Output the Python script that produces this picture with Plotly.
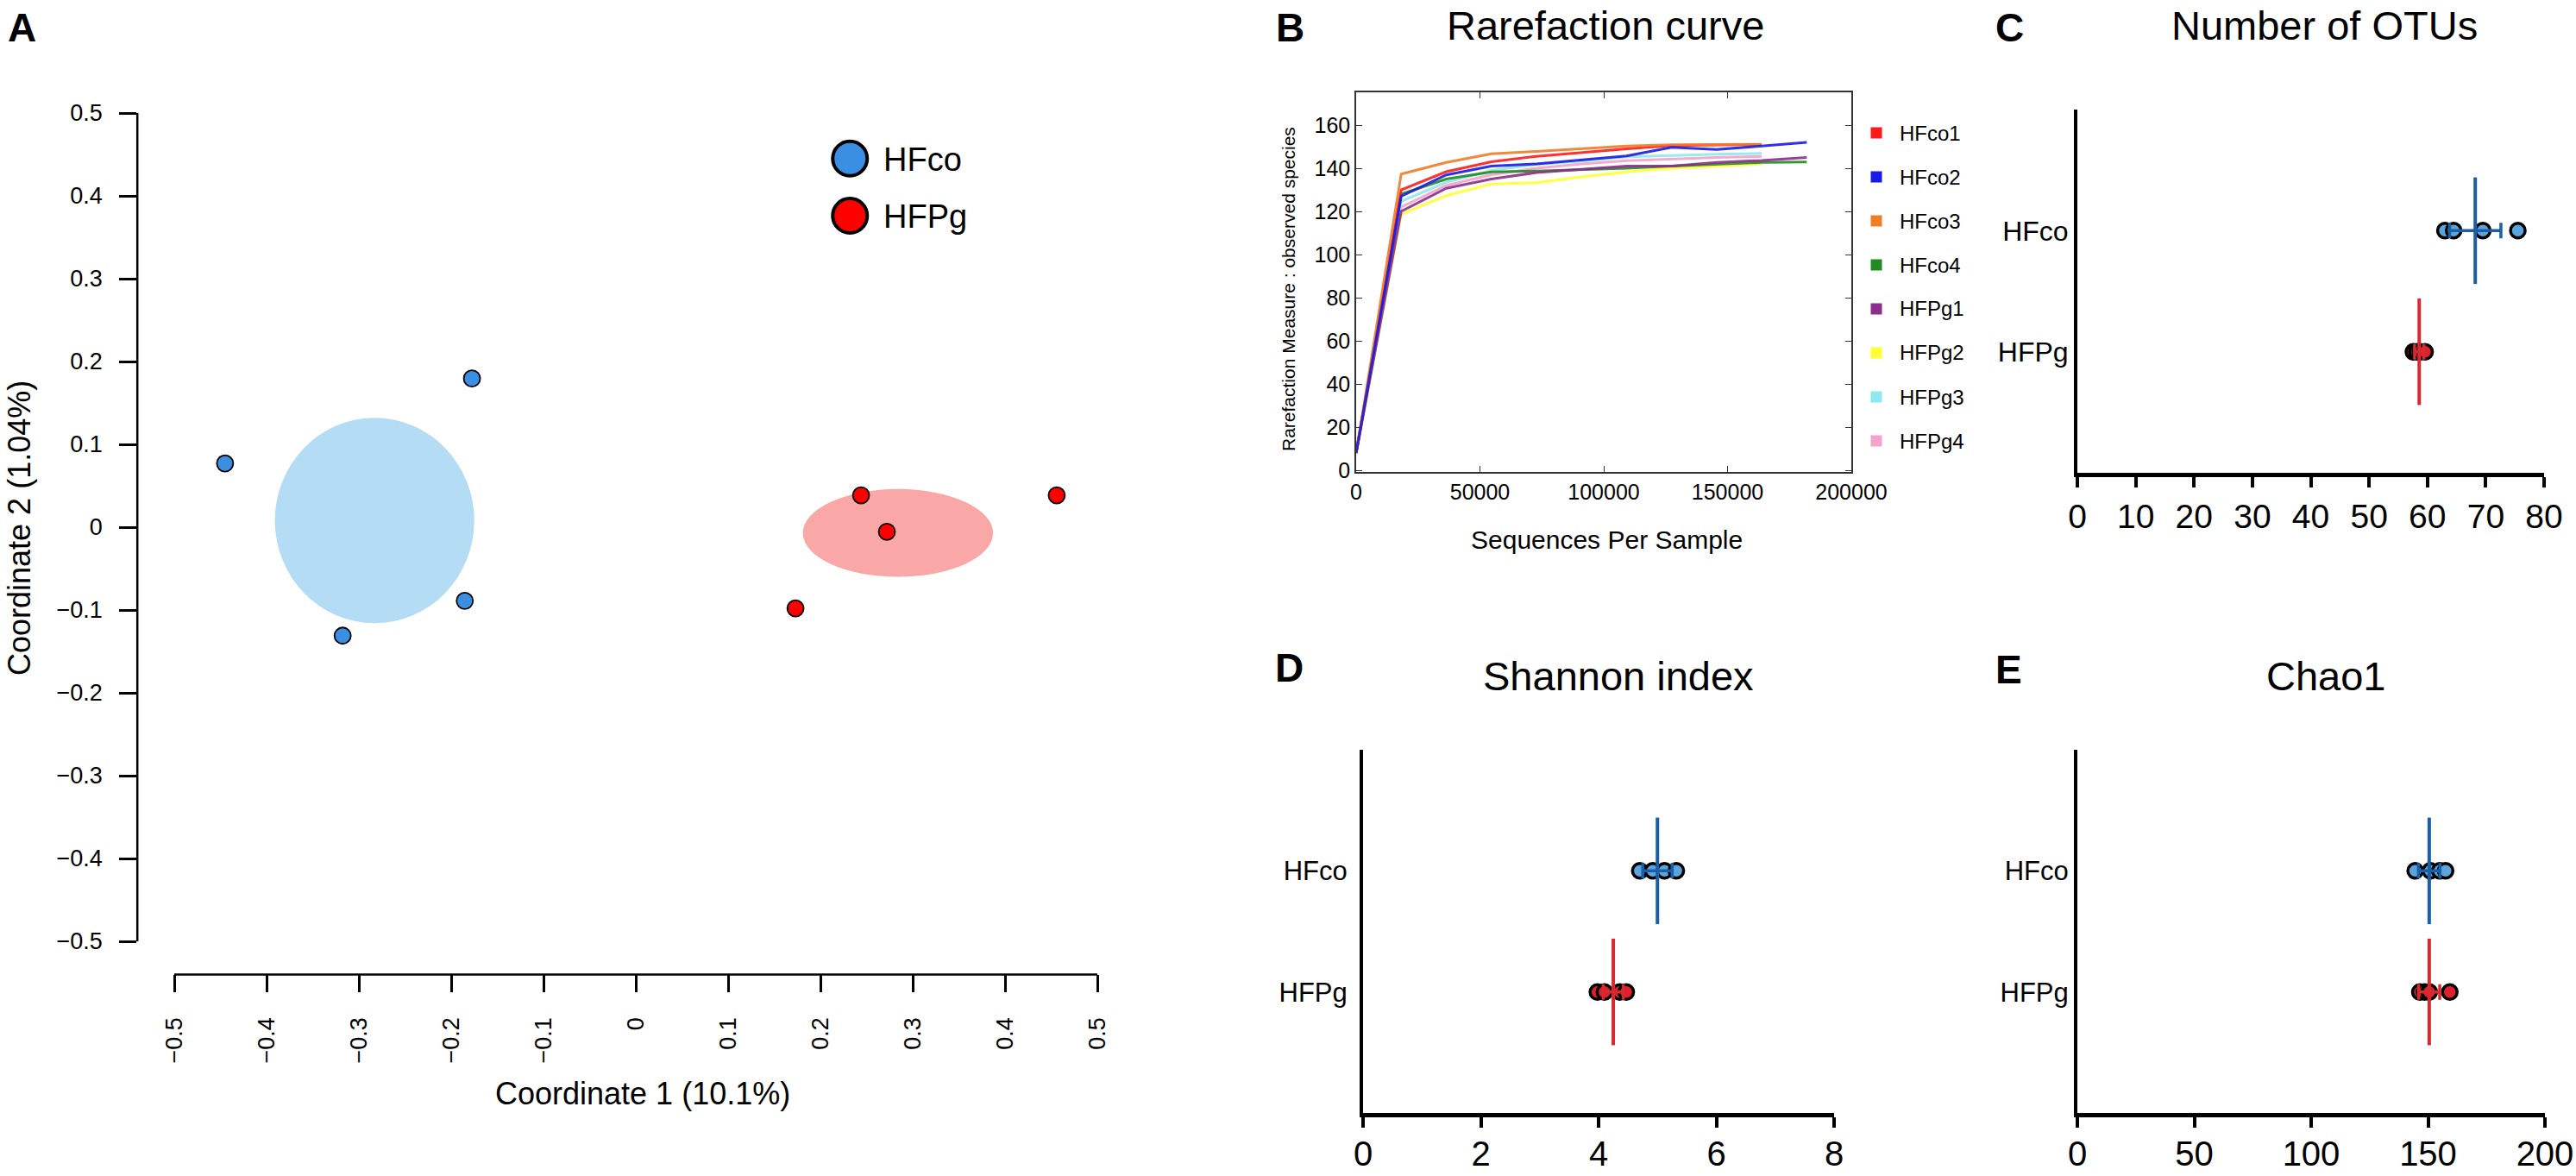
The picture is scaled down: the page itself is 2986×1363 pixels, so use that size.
import plotly.graph_objects as go

W, H = 2986, 1363
FONT = "Liberation Sans, Arial, sans-serif"

# ---------------- data ----------------
groups = ["HFco", "HFPg"]

# Panel A: PCoA
pcoa_hfco_x = [-0.445, -0.1775, -0.3176, -0.1853]
pcoa_hfco_y = [0.077, 0.1795, -0.131, -0.0889]
pcoa_hfpg_x = [0.244, 0.272, 0.173, 0.456]
pcoa_hfpg_y = [0.0385, -0.0055, -0.098, 0.0385]
ellipse_cx = [-0.283, 0.284]
ellipse_cy = [0.008, -0.007]
ellipse_rx = [0.108, 0.103]
ellipse_ry = [0.124, 0.053]
pcoa_ticks = [-0.5, -0.4, -0.3, -0.2, -0.1, 0, 0.1, 0.2, 0.3, 0.4, 0.5]
pcoa_ticklabels = ["\u22120.5", "\u22120.4", "\u22120.3", "\u22120.2", "\u22120.1", "0",
                   "0.1", "0.2", "0.3", "0.4", "0.5"]

# Panel B: rarefaction
seq_depth = [0, 18200, 36400, 54600, 72800, 91000, 109200, 127400, 145600, 163800, 182000]
rare_names = ["HFco1", "HFco2", "HFco3", "HFco4", "HFPg1", "HFPg2", "HFPg3", "HFPg4"]
rare_HFco1 = [8, 130, 138.4, 143, 145.5, 147.3, 149, 150.5, 150.8, 151.0]
rare_HFco2 = [8, 127, 136.9, 141, 142, 143.9, 145.7, 149.7, 148.7, 150.3, 152]
rare_HFco3 = [8, 137.3, 142.7, 146.7, 147.8, 149, 150.3, 150.9, 151, 151.1]
rare_HFco4 = [8, 128, 135, 138.3, 138.7, 139.3, 140, 141, 142, 142.7, 142.9]
rare_HFPg1 = [8, 120, 130.7, 135, 138, 139.6, 141, 141, 142.7, 143.6, 145]
rare_HFPg2 = [8, 118.7, 127.3, 132.7, 133.3, 136, 138.3, 140, 141, 142]
rare_HFPg3 = [8, 124.7, 133.5, 139, 141.8, 143.3, 145.3, 146, 146.5, 146.9]
rare_HFPg4 = [8, 122, 132, 137, 140, 142, 143.5, 144.3, 145, 145.5]
rare_colors = ["#ff1a1a", "#1a1ae6", "#f07d28", "#238a23", "#8c2d8c", "#ffff33", "#8ee8f0", "#f5a3c8"]
rare_x_ticks = [0, 50000, 100000, 150000, 200000]
rare_y_ticks = [0, 20, 40, 60, 80, 100, 120, 140, 160]

# Panels C-E: alpha diversity (dots, mean, error)
otus_hfco = [63.0, 64.5, 69.5, 75.5]
otus_hfpg = [57.6, 58.2, 58.8, 59.6]
otus_mean = [68.2, 58.6]
otus_err = [4.4, 0.8]
shannon_hfco = [4.7, 4.92, 5.12, 5.32]
shannon_hfpg = [3.98, 4.1, 4.36, 4.47]
shannon_mean = [5.0, 4.25]
shannon_err = [0.25, 0.17]
chao_hfco = [144.5, 151.0, 155.0, 157.5]
chao_hfpg = [146.5, 148.5, 150.5, 159.3]
chao_mean = [150.5, 150.5]
chao_err = [4.6, 4.5]
group_pos = [2, 1]  # HFco above HFPg

# legend placement (layout, not data)
legend_a_x = [0.232, 0.232]
legend_a_y = [0.445, 0.376]

# ---------------- helpers ----------------
def xdom(a, b):
    return [a / W, b / W]

def ydom(top, bottom):
    return [1 - bottom / H, 1 - top / H]

def px(x):
    return x / W

def py(y):
    return 1 - y / H

fig = go.Figure()
annotations = []
shapes = []

# ---------------- Panel A ----------------
ell_colors = ["#b5dcf5", "#faa7a7"]
for cx, cy, rx, ry, col in zip(ellipse_cx, ellipse_cy, ellipse_rx, ellipse_ry, ell_colors):
    shapes.append(dict(type="circle", xref="x", yref="y", x0=cx - rx, x1=cx + rx,
                       y0=cy - ry, y1=cy + ry, fillcolor=col, line=dict(width=0), layer="below"))

fig.add_trace(go.Scatter(x=pcoa_hfco_x, y=pcoa_hfco_y, mode="markers", xaxis="x", yaxis="y",
                         marker=dict(size=19, color="#3b8fe3", line=dict(width=1.8, color="black")),
                         showlegend=False))
fig.add_trace(go.Scatter(x=pcoa_hfpg_x, y=pcoa_hfpg_y, mode="markers", xaxis="x", yaxis="y",
                         marker=dict(size=19, color="#ff0000", line=dict(width=1.8, color="black")),
                         showlegend=False))
shapes.append(dict(type="line", xref="x", yref="y domain", x0=pcoa_ticks[0], x1=pcoa_ticks[-1],
                   y0=0, y1=0, line=dict(width=2.5, color="black")))
shapes.append(dict(type="line", xref="x domain", yref="y", x0=0, x1=0, y0=pcoa_ticks[0],
                   y1=pcoa_ticks[-1], line=dict(width=2.5, color="black")))

# Panel A legend
fig.add_trace(go.Scatter(x=legend_a_x, y=legend_a_y, mode="markers", xaxis="x", yaxis="y",
                         marker=dict(size=40, color=["#3b8fe3", "#ff0000"],
                                     line=dict(width=4, color="black")),
                         showlegend=False, hoverinfo="skip"))
for g, yy in zip(groups, [185, 251]):
    annotations.append(dict(text=g, x=px(1022), y=py(yy), xref="paper", yref="paper",
                            xanchor="left", yanchor="middle", showarrow=False,
                            font=dict(size=38, color="black", family=FONT)))

annotations.append(dict(text="Coordinate 1 (10.1%)", x=px(745), y=py(1267), xref="paper", yref="paper",
                        xanchor="center", yanchor="middle", showarrow=False,
                        font=dict(size=36, color="black", family=FONT)))
annotations.append(dict(text="Coordinate 2 (1.04%)", x=px(22), y=py(612), xref="paper", yref="paper",
                        xanchor="center", yanchor="middle", showarrow=False, textangle=-90,
                        font=dict(size=36, color="black", family=FONT)))

# ---------------- Panel B ----------------
rare_series = [rare_HFco1, rare_HFco2, rare_HFco3, rare_HFco4, rare_HFPg1, rare_HFPg2, rare_HFPg3, rare_HFPg4]
draw_order = [7, 5, 6, 3, 4, 0, 2, 1]
for i in draw_order:
    vals = rare_series[i]
    fig.add_trace(go.Scatter(x=seq_depth[:len(vals)], y=vals, mode="lines", xaxis="x2", yaxis="y2",
                             line=dict(color=rare_colors[i], width=3), opacity=0.9,
                             name=rare_names[i], showlegend=False))

legB_y = [154 + 51 * i for i in range(len(rare_names))]
fig.add_trace(go.Scatter(x=[2175] * len(rare_names), y=legB_y, mode="markers", xaxis="x6", yaxis="y6",
                         marker=dict(symbol="square", size=13, color=rare_colors, line=dict(width=0)),
                         showlegend=False, hoverinfo="skip"))
for nm, yy in zip(rare_names, legB_y):
    annotations.append(dict(text=nm, x=px(2200), y=py(yy), xref="paper", yref="paper",
                            xanchor="left", yanchor="middle", showarrow=False,
                            font=dict(size=24, color="black", family=FONT)))

annotations.append(dict(text="Sequences Per Sample", x=px(1862), y=py(625), xref="paper", yref="paper",
                        xanchor="center", yanchor="middle", showarrow=False,
                        font=dict(size=30, color="black", family=FONT)))
annotations.append(dict(text="Rarefaction Measure : observed species", x=px(1493), y=py(335),
                        xref="paper", yref="paper", xanchor="center", yanchor="middle",
                        showarrow=False, textangle=-90,
                        font=dict(size=21, color="black", family=FONT)))

# ---------------- Panels C-E ----------------
dot_fill = ["#5aa6dc", "#e0202a"]
bar_col = ["#1a5fa5", "#d42a30"]

def add_alpha(vals_by_group, means, errs, xa, ya):
    for gi, vals in enumerate(vals_by_group):
        pos = group_pos[gi]
        fig.add_trace(go.Scatter(x=vals, y=[pos] * len(vals), mode="markers", xaxis=xa, yaxis=ya,
                                 marker=dict(size=17, color=dot_fill[gi], line=dict(width=3.5, color="black")),
                                 showlegend=False))
        fig.add_trace(go.Scatter(x=[means[gi]], y=[pos], mode="markers", xaxis=xa, yaxis=ya,
                                 marker=dict(size=2, color=bar_col[gi]),
                                 error_x=dict(type="data", array=[errs[gi]], color=bar_col[gi],
                                              thickness=3.5, width=9),
                                 showlegend=False))
        fig.add_trace(go.Scatter(x=[means[gi], means[gi]], y=[pos - 0.44, pos + 0.44], mode="lines",
                                 xaxis=xa, yaxis=ya, line=dict(color=bar_col[gi], width=4),
                                 showlegend=False))

add_alpha([otus_hfco, otus_hfpg], otus_mean, otus_err, "x3", "y3")
add_alpha([shannon_hfco, shannon_hfpg], shannon_mean, shannon_err, "x4", "y4")
add_alpha([chao_hfco, chao_hfpg], chao_mean, chao_err, "x5", "y5")

for t, x, y in [("A", 25, 32), ("B", 1495, 32), ("C", 2329, 32), ("D", 1494, 774), ("E", 2328, 776)]:
    annotations.append(dict(text="<b>%s</b>" % t, x=px(x), y=py(y), xref="paper", yref="paper",
                            xanchor="center", yanchor="middle", showarrow=False,
                            font=dict(size=46, color="black", family=FONT)))
for t, x, y in [("Rarefaction curve", 1861, 29), ("Number of OTUs", 2694, 29),
                ("Shannon index", 1876, 783), ("Chao1", 2696, 783)]:
    annotations.append(dict(text=t, x=px(x), y=py(y), xref="paper", yref="paper",
                            xanchor="center", yanchor="middle", showarrow=False,
                            font=dict(size=47, color="black", family=FONT)))

# ---------------- axes ----------------
def alpha_axes(xdomain, ydomain, xr, dtick, xname, yname, xfs, yfs, xstand, ystand):
    xa = dict(domain=xdomain, range=xr, dtick=dtick, tick0=0, showline=True, linewidth=5,
              linecolor="black", ticks="outside", ticklen=12, tickwidth=4, tickcolor="black",
              showgrid=False, zeroline=False, ticklabelstandoff=xstand,
              tickfont=dict(size=xfs, color="black", family=FONT), anchor=yname)
    ya = dict(domain=ydomain, range=[0, 3], tickvals=group_pos, ticktext=groups, showline=True,
              linewidth=4, linecolor="black", ticks="", showgrid=False, zeroline=False,
              ticklabelstandoff=ystand,
              tickfont=dict(size=yfs, color="black", family=FONT), anchor=xname)
    return xa, ya

xa3, ya3 = alpha_axes(xdom(2408, 2949), ydom(127, 548), [0, 80], 10, "x3", "y3", 39, 32, 0, 0)
xa4, ya4 = alpha_axes(xdom(1580, 2126), ydom(869, 1290), [0, 8], 2, "x4", "y4", 40, 31, -4, 8)
xa5, ya5 = alpha_axes(xdom(2408, 2950), ydom(869, 1290), [0, 200], 50, "x5", "y5", 40, 31, -4, 0)

fig.update_layout(
    width=W, height=H, margin=dict(l=0, r=0, t=0, b=0, autoexpand=False),
    paper_bgcolor="white", plot_bgcolor="rgba(0,0,0,0)", showlegend=False,
    font=dict(family=FONT, color="black"),
    xaxis=dict(domain=xdom(159.2, 1314.8), range=[-0.54, 0.54], tickvals=pcoa_ticks,
               ticktext=pcoa_ticklabels, ticks="outside", ticklen=20, tickwidth=2.5,
               tickcolor="black", tickangle=-90, showline=False, showgrid=False, zeroline=False,
               ticklabelstandoff=18,
               tickfont=dict(size=27, color="black", family=FONT), anchor="y"),
    yaxis=dict(domain=ydom(92.6, 1129.4), range=[-0.54, 0.54], tickvals=pcoa_ticks,
               ticktext=pcoa_ticklabels, ticks="outside", ticklen=20, tickwidth=2.5,
               tickcolor="black", showline=False, showgrid=False, zeroline=False,
               ticklabelstandoff=14,
               tickfont=dict(size=27, color="black", family=FONT), anchor="x"),
    xaxis2=dict(domain=xdom(1572, 2146), range=[0, 200000], tickvals=rare_x_ticks,
                ticktext=[str(v) for v in rare_x_ticks], ticks="inside", ticklen=7, tickwidth=1.2,
                tickcolor="#333", showline=True, linewidth=1.5, linecolor="#333", mirror="ticks",
                showgrid=False, zeroline=False,
                tickfont=dict(size=25, color="black", family=FONT), anchor="y2"),
    yaxis2=dict(domain=ydom(107, 547), range=[-0.8, 175.2], tickvals=rare_y_ticks,
                ticktext=[str(v) for v in rare_y_ticks], ticks="inside", ticklen=7, tickwidth=1.2,
                tickcolor="#333", showline=True, linewidth=1.5, linecolor="#333", mirror="ticks",
                showgrid=False, zeroline=False,
                tickfont=dict(size=25, color="black", family=FONT), anchor="x2"),
    xaxis3=xa3, yaxis3=ya3, xaxis4=xa4, yaxis4=ya4, xaxis5=xa5, yaxis5=ya5,
    xaxis6=dict(domain=xdom(2160, 2300), range=[2160, 2300], visible=False, anchor="y6",
                showgrid=False, zeroline=False),
    yaxis6=dict(domain=ydom(128.5, 536.5), range=[536.5, 128.5], visible=False, anchor="x6",
                showgrid=False, zeroline=False),
    annotations=annotations, shapes=shapes,
)

fig.write_html("out.html", config={"displayModeBar": False},
               post_script="document.body.style.margin='0px';")
